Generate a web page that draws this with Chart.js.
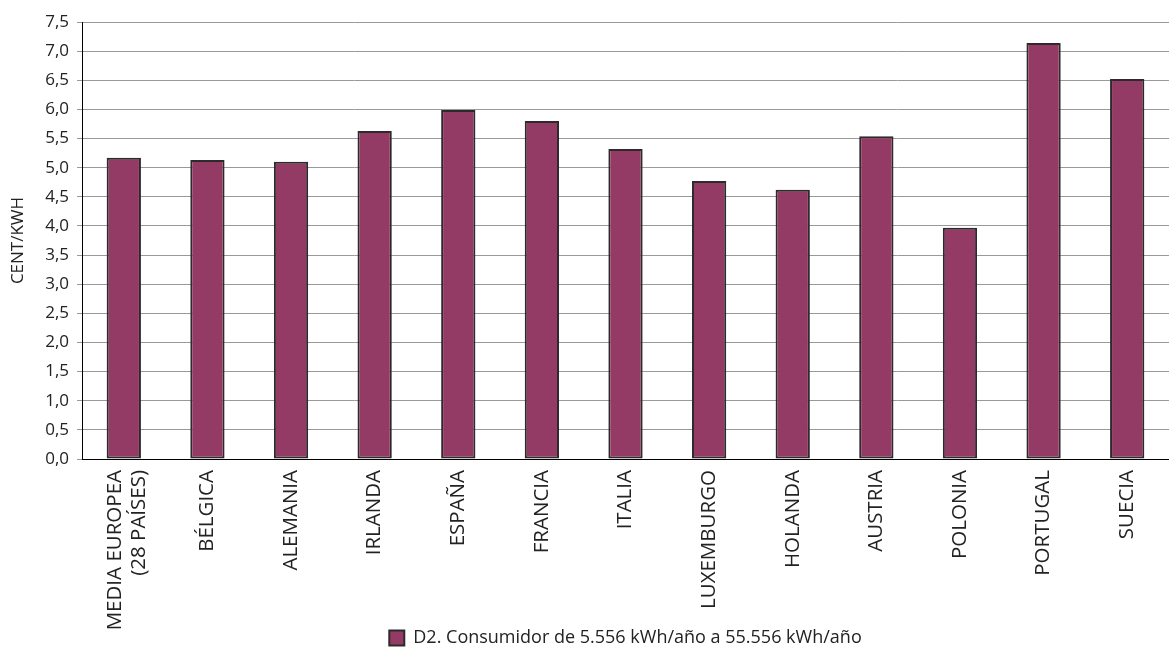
<!DOCTYPE html>
<html>
<head>
<meta charset="utf-8">
<script src="https://cdn.jsdelivr.net/npm/chart.js@4/dist/chart.umd.min.js"></script>
<style>
  html, body { margin: 0; padding: 0; background: #fff; }
  #wrap { width: 1169px; height: 650px; position: relative; }
</style>
</head>
<body>
<div id="wrap"><canvas id="priceChart"></canvas></div>
<script>
// categorias (paises)
const countries = [
    ['MEDIA EUROPEA', '(28 PAÍSES)'], 'BÉLGICA', 'ALEMANIA', 'IRLANDA', 'ESPAÑA',
    'FRANCIA', 'ITALIA', 'LUXEMBURGO', 'HOLANDA', 'AUSTRIA', 'POLONIA', 'PORTUGAL', 'SUECIA'
];
// precio D2 en cent/kWh
const priceD2 = [5.17, 5.13, 5.10, 5.63, 5.99, 5.80, 5.32, 4.77, 4.62, 5.54, 3.97, 7.14, 6.52];
const seriesName = 'D2. Consumidor de 5.556 kWh/año a 55.556 kWh/año';
const yTicks = [0, 0.5, 1, 1.5, 2, 2.5, 3, 3.5, 4, 4.5, 5, 5.5, 6, 6.5, 7, 7.5];

const fontFamily = "'Open Sans', sans-serif";

// centra la etiqueta de dos lineas bajo su barra
const twoLineLabelFix = {
    id: 'twoLineLabelFix',
    beforeDraw: function (chart) {
        const items = chart.scales.x.getLabelItems();
        if (items.length && !items[0]._shifted) {
            items[0].options.translation[0] -= 9;
            items[0]._shifted = true;
        }
    }
};

const ctx = document.getElementById('priceChart');

new Chart(ctx, {
    type: 'bar',
    data: {
        labels: countries,
        datasets: [{
            label: seriesName,
            data: priceD2,
            backgroundColor: '#933b64',
            borderColor: '#2e2a2c',
            borderWidth: 2,
            borderSkipped: false,
            categoryPercentage: 1,
            barPercentage: 0.41
        }]
    },
    plugins: [twoLineLabelFix],
    options: {
        responsive: true,
        maintainAspectRatio: false,
        animation: false,
        layout: {
            padding: { top: 22, right: 0, left: 0, bottom: -7 }
        },
        plugins: {
            tooltip: { enabled: false },
            legend: {
                position: 'bottom',
                fullSize: false,
                labels: {
                    color: '#222',
                    font: { family: fontFamily, size: 18 },
                    boxWidth: 15,
                    boxHeight: 15,
                    padding: 0
                }
            }
        },
        scales: {
            x: {
                grid: { display: false },
                border: { color: '#000', width: 1 },
                ticks: {
                    color: '#222',
                    font: { family: fontFamily, size: 20.5 },
                    minRotation: 90,
                    maxRotation: 90,
                    autoSkip: false,
                    padding: 3
                },
                afterFit: function (scale) { scale.height = 170; }
            },
            y: {
                min: 0,
                max: 7.5,
                afterBuildTicks: function (scale) {
                    scale.ticks = yTicks.map(v => ({ value: v }));
                },
                grid: {
                    color: '#999',
                    lineWidth: 1,
                    tickLength: 5
                },
                border: { color: '#000', width: 1 },
                ticks: {
                    color: '#222',
                    font: { family: fontFamily, size: 17 },
                    padding: 8,
                    callback: function (value) {
                        return value.toFixed(1).replace('.', ',');
                    }
                },
                title: {
                    display: true,
                    text: 'CENT/KWH',
                    color: '#222',
                    font: { family: fontFamily, size: 17 },
                    padding: { top: 8, bottom: 0 }
                },
                afterFit: function (scale) { scale.width = 82; }
            }
        }
    }
});
</script>
</body>
</html>
